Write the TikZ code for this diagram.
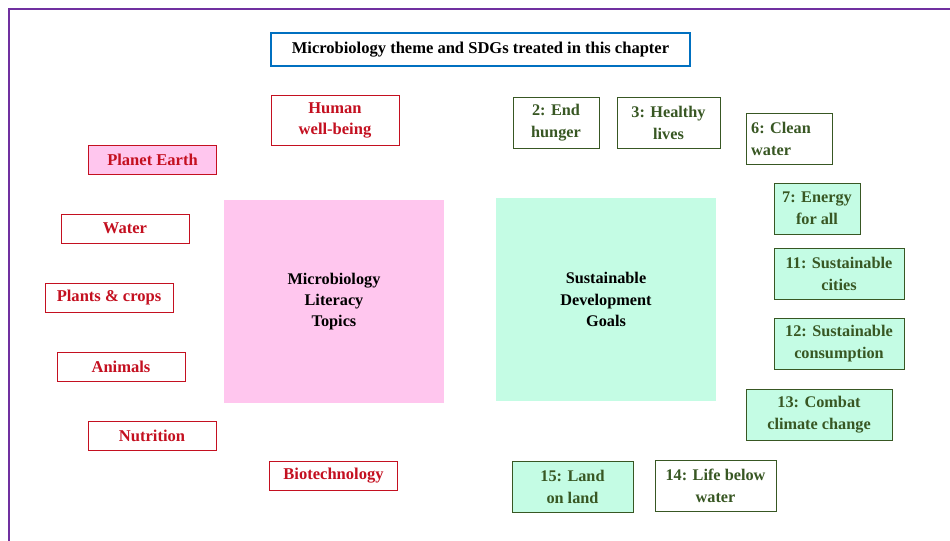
\documentclass[tikz,border=0pt]{standalone}
\usepackage{fontspec}
\setmainfont{Liberation Serif}
\usepackage{xcolor}
\definecolor{framepurple}{RGB}{112,48,160}
\definecolor{titleblue}{RGB}{0,112,192}
\definecolor{topicred}{RGB}{196,16,32}
\definecolor{goalgreen}{RGB}{56,87,35}
\definecolor{topicpink}{RGB}{255,198,238}
\definecolor{goalmint}{RGB}{196,252,228}
\usepackage{tikz}
\usetikzlibrary{positioning}

\begin{document}
\begin{tikzpicture}[
  x=0.75pt, y=-0.75pt,
  title/.style={rectangle, draw=titleblue, line width=1.1pt, minimum width=419*0.75pt, minimum height=33*0.75pt, inner sep=0pt, font=\fontsize{12.4}{14}\selectfont\bfseries},
  topic/.style={rectangle, draw=topicred, line width=0.6pt, fill=white, text=topicred, minimum width=128*0.75pt, minimum height=29*0.75pt, inner sep=0pt, align=center, font=\fontsize{12.4}{15.8}\selectfont\bfseries},
  goal/.style={rectangle, draw=goalgreen, line width=0.6pt, fill=white, text=goalgreen, minimum height=51*0.75pt, inner sep=0pt, align=center, font=\fontsize{12.2}{16.5}\selectfont\bfseries},
  hub/.style={rectangle, minimum width=220*0.75pt, minimum height=203*0.75pt, inner sep=0pt, align=center, font=\fontsize{12.2}{16}\selectfont\bfseries}
]
  \useasboundingbox (0,0) rectangle (950,540);
  \draw[framepurple, line width=1.5pt] (9,560) -- (9,9) -- (970,9);

  \node[title] (head) at (480.5,49.5) {Microbiology theme and SDGs treated in this chapter};

  % microbiology topics
  \node[hub, fill=topicpink] (mlt) at (334,301.5) {Microbiology\\Literacy\\Topics};
  \node[topic, minimum height=50*0.75pt] (human) at (335,120) {Human\\well-being};
  \node[topic, fill=topicpink] (earth) at (152.5,160) {Planet Earth};
  \node[topic] (water) at (125,228.5) {Water};
  \node[topic] (plants) at (109,298) {Plants \& crops};
  \node[topic] (animals) at (121,367) {Animals};
  \node[topic] (nutrition) at (152,435.5) {Nutrition};
  \node[topic] (biotech) at (333.5,475.5) {Biotechnology};

  % sustainable development goals
  \node[hub, fill=goalmint] (sdg) at (606,299.5) {Sustainable\\Development\\Goals};
  \node[goal, minimum width=86*0.75pt] (g2) at (556,122.5) {2: End\\hunger};
  \node[goal, minimum width=103*0.75pt] (g3) at (668.5,122.5) {3: Healthy\\lives};
  \node[goal, minimum width=86*0.75pt, align=left] (g6) at (789,139) {6: Clean\\water\hspace*{2.2em}};
  \node[goal, fill=goalmint, minimum width=86*0.75pt] (g7) at (817,208.5) {7: Energy\\for all};
  \node[goal, fill=goalmint, minimum width=130*0.75pt] (g11) at (839,274) {11: Sustainable\\cities};
  \node[goal, fill=goalmint, minimum width=130*0.75pt] (g12) at (839,344) {12: Sustainable\\consumption};
  \node[goal, fill=goalmint, minimum width=146*0.75pt] (g13) at (819,414.5) {13: Combat\\climate change};
  \node[goal, fill=goalmint, minimum width=121*0.75pt] (g15) at (572.5,486.5) {15: Land\\on land};
  \node[goal, minimum width=121*0.75pt] (g14) at (715.5,485.5) {14: Life below\\water};
\end{tikzpicture}
\end{document}
